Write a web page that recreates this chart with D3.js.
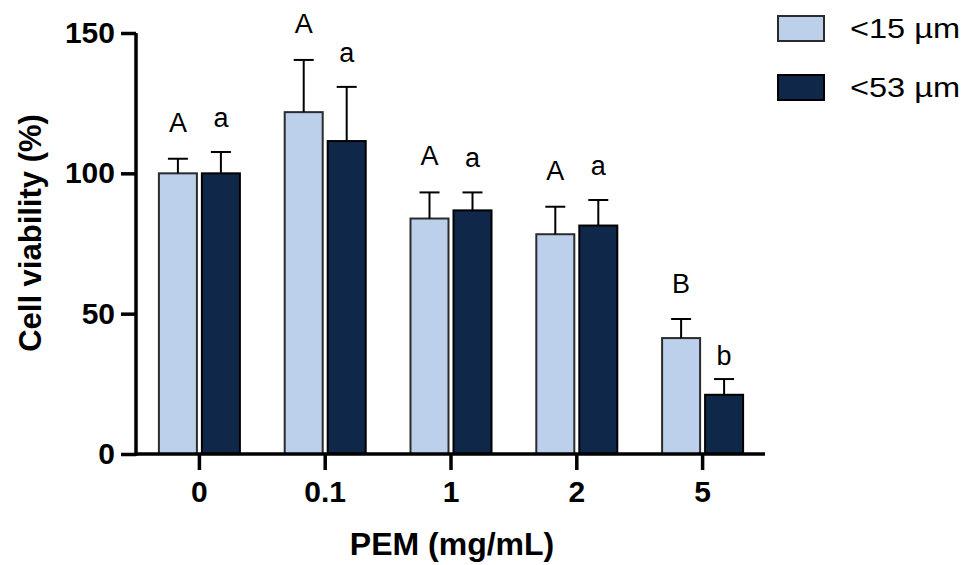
<!DOCTYPE html>
<html>
<head>
<meta charset="utf-8">
<script src="https://cdn.jsdelivr.net/npm/d3@7"></script>
<style>
  body { margin: 0; background: #fff; }
  svg { display: block; font-family: "Liberation Sans", Arial, sans-serif; }
</style>
</head>
<body>
<div id="chart"></div>
<script>
// Data
const doses = ['0', '0.1', '1', '2', '5'];
const seriesNames = ['<15 µm', '<53 µm'];
const meanSmall = [100, 121.8, 83.9, 78.3, 41.3];
const sdSmall = [5.2, 18.6, 9.3, 9.8, 6.8];
const meanLarge = [100, 111.5, 86.8, 81.4, 21.1];
const sdLarge = [7.6, 19.3, 6.4, 9.1, 5.6];
const lettersSmall = ['A', 'A', 'A', 'A', 'B'];
const lettersLarge = ['a', 'a', 'a', 'a', 'b'];
const yTicks = [0, 50, 100, 150];

document.addEventListener('DOMContentLoaded', () => {
    const width = 968, height = 565;
    const colors = { '<15 µm': '#bcd0ec', '<53 µm': '#0f2749' };
    const strokes = { '<15 µm': '#2b2b2b', '<53 µm': '#000000' };
    // letter gap above the error cap (px), per letter
    const letterGap = { A: 27, a: 25, B: 26, b: 14 };

    const svg = d3.select('#chart').append('svg')
        .attr('width', width)
        .attr('height', height);

    const x = d3.scalePoint().domain(doses).range([136, 765]).padding(0.5);
    const xSub = d3.scaleBand().domain(seriesNames).range([-40, 41]).paddingInner(0.116);
    const y = d3.scaleLinear().domain([0, 150]).range([454, 33]);

    const rows = [];
    doses.forEach((d, i) => {
        rows.push({ dose: d, series: seriesNames[0], mean: meanSmall[i], sd: sdSmall[i], letter: lettersSmall[i] });
        rows.push({ dose: d, series: seriesNames[1], mean: meanLarge[i], sd: sdLarge[i], letter: lettersLarge[i] });
    });

    // Bars
    svg.append('g').selectAll('rect')
        .data(rows)
        .join('rect')
        .attr('x', d => x(d.dose) + xSub(d.series))
        .attr('y', d => y(d.mean))
        .attr('width', xSub.bandwidth())
        .attr('height', d => y(0) - y(d.mean))
        .attr('fill', d => colors[d.series])
        .attr('stroke', d => strokes[d.series])
        .attr('stroke-width', 2);

    // Error bars (upper only)
    const err = svg.append('g')
        .attr('stroke', '#000')
        .attr('stroke-width', 2)
        .selectAll('g')
        .data(rows)
        .join('g')
        .attr('transform', d => `translate(${x(d.dose) + xSub(d.series) + xSub.bandwidth() / 2},0)`);
    err.append('line')
        .attr('y1', d => y(d.mean))
        .attr('y2', d => y(d.mean + d.sd));
    err.append('line')
        .attr('x1', -10).attr('x2', 10)
        .attr('y1', d => y(d.mean + d.sd))
        .attr('y2', d => y(d.mean + d.sd));

    // Significance letters
    svg.append('g').selectAll('text')
        .data(rows)
        .join('text')
        .attr('x', d => x(d.dose) + xSub(d.series) + xSub.bandwidth() / 2)
        .attr('y', d => y(d.mean + d.sd) - letterGap[d.letter])
        .attr('text-anchor', 'middle')
        .style('font-size', '27px')
        .text(d => d.letter);

    // Y axis
    const yAxis = svg.append('g')
        .attr('transform', 'translate(136,0)')
        .call(d3.axisLeft(y).tickValues(yTicks).tickSize(15).tickPadding(6));
    yAxis.select('.domain').attr('stroke-width', 3.5).attr('d', `M0,${y(150)}V${y(0) + 1.75}`);
    yAxis.selectAll('.tick line').attr('stroke-width', 3.5);
    yAxis.selectAll('.tick text')
        .style('font-size', '30px')
        .style('font-weight', 'bold')
        .style('font-family', '"Liberation Sans", Arial, sans-serif')
        .attr('fill', '#000');

    // X axis
    const xAxis = svg.append('g')
        .attr('transform', `translate(0,${y(0)})`)
        .call(d3.axisBottom(x).tickSize(16).tickPadding(11));
    xAxis.select('.domain').attr('stroke-width', 3.5).attr('d', 'M136,0H765');
    xAxis.selectAll('.tick line').attr('stroke-width', 3.5);
    xAxis.selectAll('.tick text')
        .style('font-size', '30px')
        .style('font-weight', 'bold')
        .style('font-family', '"Liberation Sans", Arial, sans-serif')
        .attr('fill', '#000');

    // Axis titles
    svg.append('text')
        .attr('x', 452).attr('y', 555)
        .attr('text-anchor', 'middle')
        .style('font-size', '32px')
        .style('font-weight', 'bold')
        .text('PEM (mg/mL)');

    svg.append('text')
        .attr('transform', 'translate(41,233) rotate(-90)')
        .attr('text-anchor', 'middle')
        .style('font-size', '31px')
        .style('font-weight', 'bold')
        .text('Cell viability (%)');

    // Legend
    const legend = svg.append('g').selectAll('g')
        .data(seriesNames)
        .join('g')
        .attr('transform', (d, i) => `translate(778,${16 + i * 59})`);
    legend.append('rect')
        .attr('width', 46).attr('height', 25)
        .attr('fill', d => colors[d])
        .attr('stroke', d => strokes[d])
        .attr('stroke-width', 2);
    legend.append('text')
        .attr('x', 72).attr('y', 22)
        .attr('textLength', 110)
        .attr('lengthAdjust', 'spacingAndGlyphs')
        .style('font-size', '28px')
        .text(d => d);
});
</script>
</body>
</html>
